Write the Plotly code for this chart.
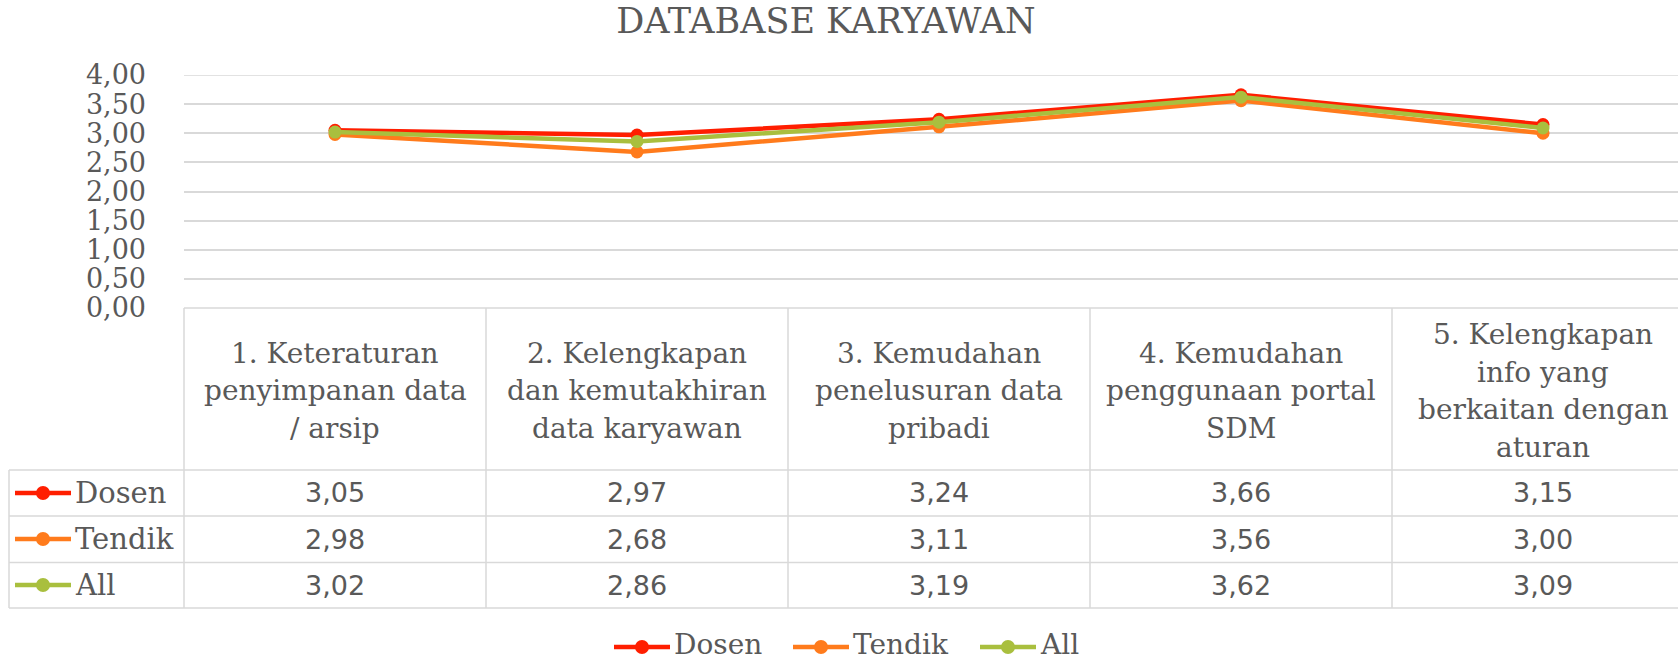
import plotly.graph_objects as go

title = "DATABASE KARYAWAN"
categories = [
    "1. Keteraturan<br>penyimpanan data<br>/ arsip",
    "2. Kelengkapan<br>dan kemutakhiran<br>data karyawan",
    "3. Kemudahan<br>penelusuran data<br>pribadi",
    "4. Kemudahan<br>penggunaan portal<br>SDM",
    "5. Kelengkapan<br>info yang<br>berkaitan dengan<br>aturan",
]
series_names = ["Dosen", "Tendik", "All"]
dosen = [3.05, 2.97, 3.24, 3.66, 3.15]
tendik = [2.98, 2.68, 3.11, 3.56, 3.00]
all_vals = [3.02, 2.86, 3.19, 3.62, 3.09]
series_values = [dosen, tendik, all_vals]
colors = ["#FF1E00", "#FF7B1C", "#A9BF3E"]
y_ticks = [0, 0.5, 1, 1.5, 2, 2.5, 3, 3.5, 4]

W, H = 1678, 663
L, R, T, B = 184, 0, 75, 355
PW = W - L - R
PH = H - T - B
COLW = 302  # table column width in px (chart is cropped on the right)
TXT = "#595959"
GRID = "#D9D9D9"
SERIF = "DejaVu Serif"
SANS = "DejaVu Sans"


def px(x):
    return (x - L) / PW


def py(y):
    return (H - B - y) / PH


n = len(categories)
xs = list(range(n))
fig = go.Figure()
for name, vals, c in zip(series_names, series_values, colors):
    fig.add_trace(go.Scatter(
        x=xs, y=vals, name=name, mode="lines+markers",
        line=dict(color=c, width=4.5),
        marker=dict(color=c, size=13),
        showlegend=False,
    ))

shapes = []
# top gridline (4,00)
shapes.append(dict(type="line", xref="paper", yref="y", x0=0, x1=1, y0=4, y1=4,
                   line=dict(color=GRID, width=1.5), layer="below"))

hdr_top = H - B
row_edges = [470, 516, 562.5, 608]
col_edges = [L + k * COLW for k in range(n)]
shapes.append(dict(type="line", xref="paper", yref="paper", x0=0, x1=1.05,
                   y0=py(hdr_top), y1=py(hdr_top), line=dict(color=GRID, width=1.5)))
for ry in row_edges:
    shapes.append(dict(type="line", xref="paper", yref="paper", x0=px(9), x1=1.05,
                       y0=py(ry), y1=py(ry), line=dict(color=GRID, width=1.5)))
for cx in col_edges:
    shapes.append(dict(type="line", xref="paper", yref="paper", x0=px(cx), x1=px(cx),
                       y0=py(hdr_top), y1=py(row_edges[-1]), line=dict(color=GRID, width=1.5)))
shapes.append(dict(type="line", xref="paper", yref="paper", x0=px(9), x1=px(9),
                   y0=py(row_edges[0]), y1=py(row_edges[-1]), line=dict(color=GRID, width=1.5)))

annotations = []
LINE_SP = 37.7
BLOCK_C = 391
for i, cat in enumerate(categories):
    lines = cat.split("<br>")
    k = len(lines)
    for j, ln in enumerate(lines):
        yc = BLOCK_C + (j - (k - 1) / 2) * LINE_SP
        annotations.append(dict(x=i, xref="x", y=py(yc), yref="paper", text=ln,
                                showarrow=False, xanchor="center", yanchor="middle",
                                font=dict(family=SERIF, size=28, color=TXT)))


def legend_key(x0, yc, c):
    shapes.append(dict(type="line", xref="paper", yref="paper", x0=px(x0), x1=px(x0 + 56),
                       y0=py(yc), y1=py(yc), line=dict(color=c, width=4.7)))
    shapes.append(dict(type="circle", xref="paper", yref="paper", x0=px(x0 + 21), x1=px(x0 + 35),
                       y0=py(yc - 7), y1=py(yc + 7), fillcolor=c, line=dict(color=c, width=0)))


row_centers = [493, 539, 585]
for r, (name, vals, c) in enumerate(zip(series_names, series_values, colors)):
    yc = row_centers[r]
    legend_key(15, yc, c)
    annotations.append(dict(x=px(73), xref="paper", y=py(yc), yref="paper", text=name,
                            showarrow=False, xanchor="left", yanchor="middle",
                            font=dict(family=SERIF, size=29, color=TXT)))
    for i, v in enumerate(vals):
        annotations.append(dict(x=i, xref="x", y=py(yc), yref="paper",
                                text=f"{v:.2f}".replace(".", ","),
                                showarrow=False, xanchor="center", yanchor="middle",
                                font=dict(family=SANS, size=27, color=TXT)))

# bottom legend
leg_y = 647
leg_x = [614, 793, 980]
for name, c, lx in zip(series_names, colors, leg_x):
    legend_key(lx, leg_y, c)
    annotations.append(dict(x=px(lx + 58), xref="paper", y=py(644), yref="paper", text=name,
                            showarrow=False, xanchor="left", yanchor="middle",
                            font=dict(family=SERIF, size=28, color=TXT)))

fig.update_layout(
    width=W, height=H,
    margin=dict(l=L, r=R, t=T, b=B),
    paper_bgcolor="white", plot_bgcolor="white",
    separators=",.",
    title=dict(text=title, xref="container", x=826 / W, xanchor="center",
               yref="container", y=1 - 21 / H, yanchor="middle",
               font=dict(family=SERIF, size=35, color=TXT)),
    xaxis=dict(range=[-0.5, -0.5 + PW / COLW], showticklabels=False, showgrid=False,
               zeroline=False, showline=False, fixedrange=True),
    yaxis=dict(range=[0, 4], tickvals=y_ticks, tickformat=".2f", showgrid=True,
               gridcolor=GRID, gridwidth=1.5, zeroline=False, showline=False,
               tickfont=dict(family=SERIF, size=27, color=TXT), ticks="", ticklen=0,
               ticklabelstandoff=37),
    showlegend=False,
    shapes=shapes,
    annotations=annotations,
)

fig.write_html(
    "out.html",
    config={"displayModeBar": False},
    post_script="document.body.style.margin='0';document.body.style.overflow='hidden';",
)
